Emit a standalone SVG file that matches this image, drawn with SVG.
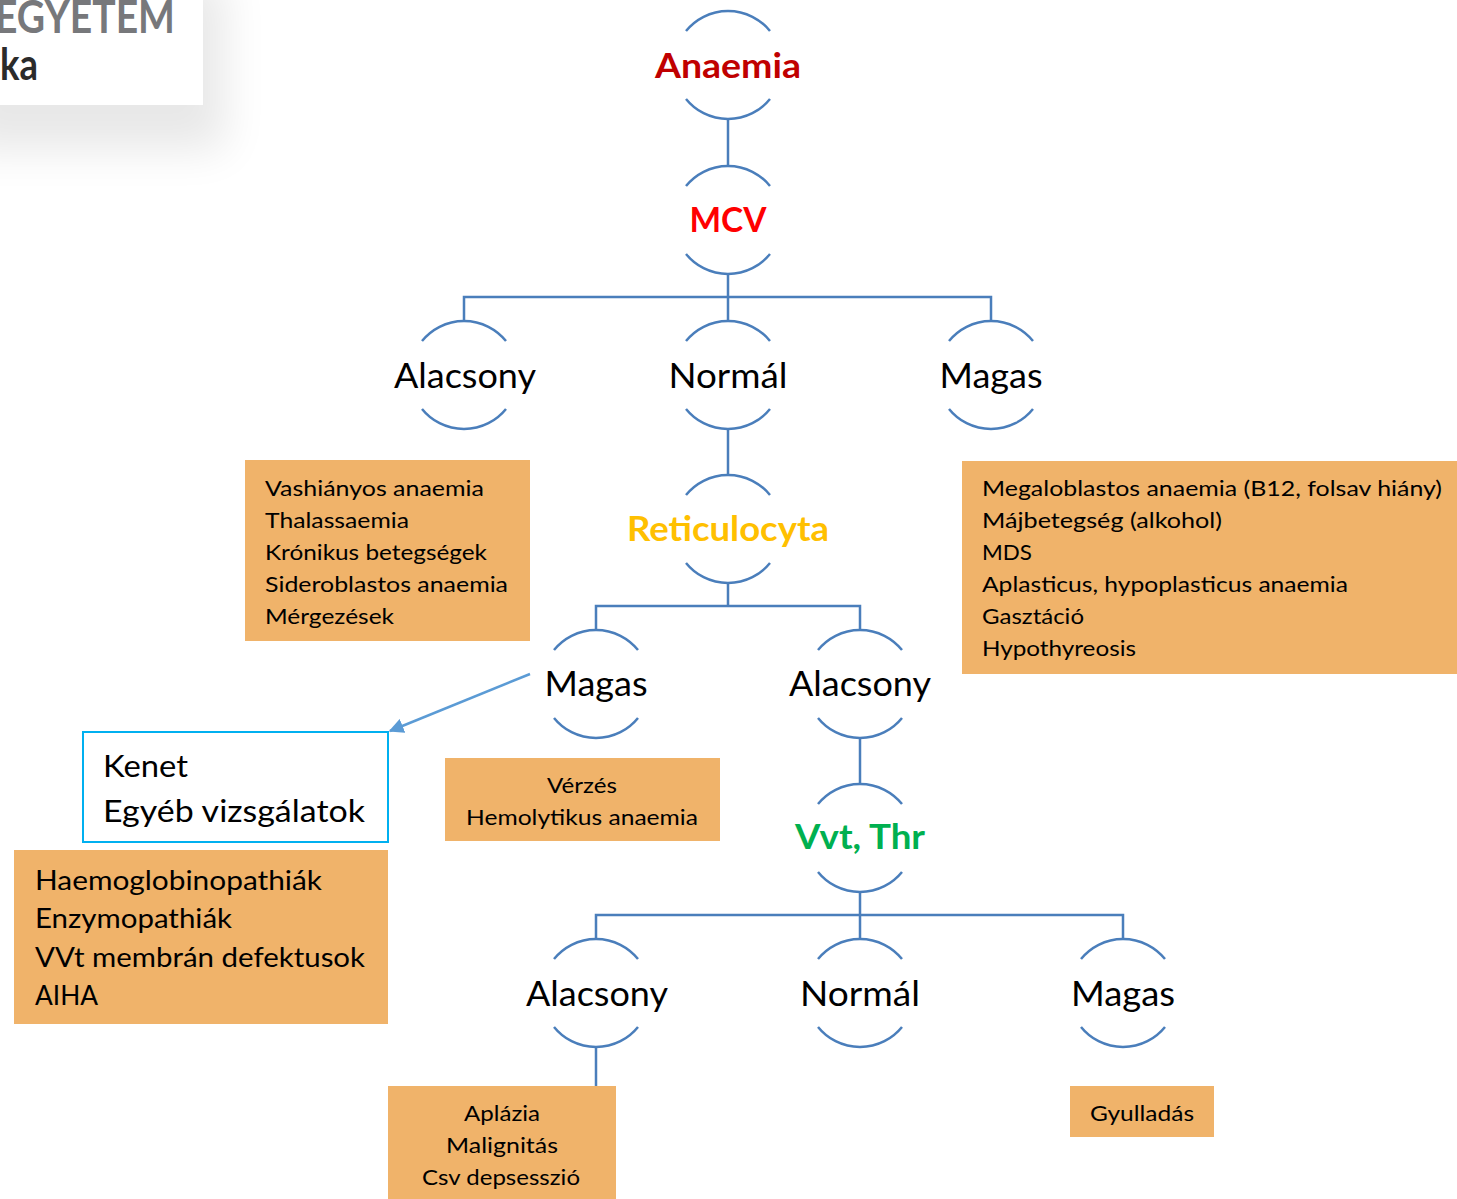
<svg xmlns="http://www.w3.org/2000/svg" xmlns:xlink="http://www.w3.org/1999/xlink" width="1457" height="1199" viewBox="0 0 1457 1199">
<style>
  text { font-family: Lato, "Open Sans", "Liberation Sans", sans-serif; fill: #000; }
  .node { font-size: 35px; text-anchor: middle; }
  .bold { font-weight: bold; }
  .box { fill: #F0B36A; }
  .bt { font-size: 22px; }
  .c { text-anchor: middle; }
  .ring { fill: none; stroke: #4A7EBB; stroke-width: 2.5; }
  .conn { fill: none; stroke: #4A7EBB; stroke-width: 2.5; }
</style>
<defs>
  <path id="ring" d="M -42 -34 A 54 54 0 0 1 42 -34 M -42 34 A 54 54 0 0 0 42 34"/>
  <marker id="ah" viewBox="0 0 10 10" refX="9" refY="5" markerWidth="6" markerHeight="6" orient="auto" markerUnits="strokeWidth">
    <path d="M0,0 L10,5 L0,10 z" fill="#5B9BD5"/>
  </marker>
  <filter id="sh" x="-50%" y="-50%" width="200%" height="200%">
    <feGaussianBlur stdDeviation="22"/>
  </filter>
</defs>
<rect width="1457" height="1199" fill="#fff"/>

<g id="logo">
  <rect x="-40" y="-20" width="265" height="170" fill="#000" opacity="0.09" filter="url(#sh)"/>
  <rect x="0" y="0" width="203" height="105" fill="#fff"/>
  <text x="-5" y="33" font-size="46" font-weight="bold" fill="#77787B" style="fill:#77787B" textLength="180" lengthAdjust="spacingAndGlyphs">EGYETEM</text>
  <text x="0" y="80" font-size="44" font-weight="bold" style="fill:#2B2B2B" textLength="38" lengthAdjust="spacingAndGlyphs">ka</text>
</g>

<g id="connectors">
  <path class="conn" d="M728 119 V166"/>
  <path class="conn" d="M728 274 V297 M464 321 V297 H991 V321 M728 297 V321"/>
  <path class="conn" d="M728 429 V475"/>
  <path class="conn" d="M728 583 V606 M596 630 V606 H860 V630"/>
  <path class="conn" d="M860 738 V784"/>
  <path class="conn" d="M860 892 V915 M596 939 V915 H1123 V939 M860 915 V939"/>
  <path class="conn" d="M596 1047 V1086"/>
  <line x1="530" y1="674" x2="390" y2="731" stroke="#5B9BD5" stroke-width="2.5" marker-end="url(#ah)"/>
</g>

<g id="n-anaemia"><use href="#ring" x="728" y="65" class="ring"/><text class="node bold" x="728" y="78" style="fill:#C00000" textLength="146" lengthAdjust="spacingAndGlyphs">Anaemia</text></g>
<g id="n-mcv"><use href="#ring" x="728" y="220" class="ring"/><text class="node bold" x="728" y="232" style="fill:#FF0000" textLength="77" lengthAdjust="spacingAndGlyphs">MCV</text></g>
<g id="n-alacsony1"><use href="#ring" x="464" y="375" class="ring"/><text class="node" x="465" y="388" textLength="142" lengthAdjust="spacingAndGlyphs">Alacsony</text></g>
<g id="n-normal1"><use href="#ring" x="728" y="375" class="ring"/><text class="node" x="728" y="388" textLength="119" lengthAdjust="spacingAndGlyphs">Normál</text></g>
<g id="n-magas1"><use href="#ring" x="991" y="375" class="ring"/><text class="node" x="991" y="388" textLength="103" lengthAdjust="spacingAndGlyphs">Magas</text></g>
<g id="n-retic"><use href="#ring" x="728" y="529" class="ring"/><text class="node bold" x="728" y="541" style="fill:#FFC000" textLength="202" lengthAdjust="spacingAndGlyphs">Reticulocyta</text></g>
<g id="n-magas2"><use href="#ring" x="596" y="684" class="ring"/><text class="node" x="596" y="696" textLength="103" lengthAdjust="spacingAndGlyphs">Magas</text></g>
<g id="n-alacsony2"><use href="#ring" x="860" y="684" class="ring"/><text class="node" x="860" y="696" textLength="142" lengthAdjust="spacingAndGlyphs">Alacsony</text></g>
<g id="n-vvt"><use href="#ring" x="860" y="838" class="ring"/><text class="node bold" x="860" y="849" style="fill:#00B050" textLength="130" lengthAdjust="spacingAndGlyphs">Vvt, Thr</text></g>
<g id="n-alacsony3"><use href="#ring" x="596" y="993" class="ring"/><text class="node" x="597" y="1006" textLength="142" lengthAdjust="spacingAndGlyphs">Alacsony</text></g>
<g id="n-normal3"><use href="#ring" x="860" y="993" class="ring"/><text class="node" x="860" y="1006" textLength="120" lengthAdjust="spacingAndGlyphs">Normál</text></g>
<g id="n-magas3"><use href="#ring" x="1123" y="993" class="ring"/><text class="node" x="1123" y="1006" textLength="104" lengthAdjust="spacingAndGlyphs">Magas</text></g>

<g id="box-alacsony">
  <rect class="box" x="245" y="460" width="285" height="181"/>
  <text class="bt" x="265" y="496" textLength="219" lengthAdjust="spacingAndGlyphs">Vashiányos anaemia</text>
  <text class="bt" x="265" y="528" textLength="144" lengthAdjust="spacingAndGlyphs">Thalassaemia</text>
  <text class="bt" x="265" y="560" textLength="222" lengthAdjust="spacingAndGlyphs">Krónikus betegségek</text>
  <text class="bt" x="265" y="592" textLength="243" lengthAdjust="spacingAndGlyphs">Sideroblastos anaemia</text>
  <text class="bt" x="265" y="624" textLength="129" lengthAdjust="spacingAndGlyphs">Mérgezések</text>
</g>

<g id="box-magas">
  <rect class="box" x="962" y="461" width="495" height="213"/>
  <text class="bt" x="982" y="496" textLength="460" lengthAdjust="spacingAndGlyphs">Megaloblastos anaemia (B12, folsav hiány)</text>
  <text class="bt" x="982" y="528" textLength="240" lengthAdjust="spacingAndGlyphs">Májbetegség (alkohol)</text>
  <text class="bt" x="982" y="560" textLength="50" lengthAdjust="spacingAndGlyphs">MDS</text>
  <text class="bt" x="982" y="592" textLength="366" lengthAdjust="spacingAndGlyphs">Aplasticus, hypoplasticus anaemia</text>
  <text class="bt" x="982" y="624" textLength="102" lengthAdjust="spacingAndGlyphs">Gasztáció</text>
  <text class="bt" x="982" y="656" textLength="154" lengthAdjust="spacingAndGlyphs">Hypothyreosis</text>
</g>

<g id="box-kenet">
  <rect x="83" y="732" width="305" height="110" fill="#fff" stroke="#00B0F0" stroke-width="2"/>
  <text x="103" y="777" font-size="31" textLength="85" lengthAdjust="spacingAndGlyphs">Kenet</text>
  <text x="103" y="822" font-size="31" textLength="262" lengthAdjust="spacingAndGlyphs">Egyéb vizsgálatok</text>
</g>

<g id="box-haemo">
  <rect class="box" x="14" y="850" width="374" height="174"/>
  <text x="35" y="890" font-size="26" textLength="287" lengthAdjust="spacingAndGlyphs">Haemoglobinopathiák</text>
  <text x="35" y="928" font-size="26" textLength="197" lengthAdjust="spacingAndGlyphs">Enzymopathiák</text>
  <text x="35" y="967" font-size="26" textLength="330" lengthAdjust="spacingAndGlyphs">VVt membrán defektusok</text>
  <text x="35" y="1005" font-size="26" textLength="63" lengthAdjust="spacingAndGlyphs">AIHA</text>
</g>

<g id="box-verzes">
  <rect class="box" x="445" y="758" width="275" height="83"/>
  <text class="bt c" x="582" y="793" textLength="70" lengthAdjust="spacingAndGlyphs">Vérzés</text>
  <text class="bt c" x="582" y="825" textLength="232" lengthAdjust="spacingAndGlyphs">Hemolytikus anaemia</text>
</g>

<g id="box-aplazia">
  <rect class="box" x="388" y="1086" width="228" height="113"/>
  <text class="bt c" x="502" y="1121" textLength="76" lengthAdjust="spacingAndGlyphs">Aplázia</text>
  <text class="bt c" x="502" y="1153" textLength="112" lengthAdjust="spacingAndGlyphs">Malignitás</text>
  <text class="bt c" x="501" y="1185" textLength="158" lengthAdjust="spacingAndGlyphs">Csv depsesszió</text>
</g>

<g id="box-gyulladas">
  <rect class="box" x="1070" y="1086" width="144" height="51"/>
  <text class="bt c" x="1142" y="1121" textLength="104" lengthAdjust="spacingAndGlyphs">Gyulladás</text>
</g>
</svg>
